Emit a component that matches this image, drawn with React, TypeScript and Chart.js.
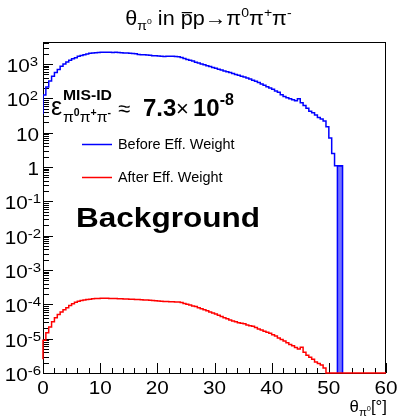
import React, { useEffect, useRef } from 'react';
import { Chart, registerables } from 'chart.js';

Chart.register(...registerables);

// ---------------- data ----------------
const X_MIN = 0;
const X_MAX = 60;
const Y_MIN = 1e-6;
const Y_MAX = 4400;
const BIN_WIDTH = 0.5;

// "Before Eff. Weight" — bin contents, bins of 0.5 starting at 0
const blueCounts = [
  35, 125, 215, 320, 440, 570, 700, 860, 1010, 1150,
  1290, 1420, 1530, 1680, 1780, 1880, 1960, 2060, 2100, 2150,
  2180, 2200, 2230, 2210, 2200, 2190, 2200, 2160, 2150, 2120,
  2110, 2080, 2050, 1990, 1900, 1870, 1860, 1830, 1800, 1760,
  1740, 1720, 1700, 1660, 1700, 1690, 1680, 1660, 1640, 1560,
  1450, 1370, 1290, 1220, 1140, 1070, 1000, 950, 900, 850,
  800, 760, 710, 670, 630, 600, 570, 535, 500, 475,
  440, 420, 390, 365, 340, 315, 290, 265, 240, 218,
  200, 185, 165, 150, 128, 113, 105, 98, 92, 85,
  97, 75, 62, 52, 42, 38, 33, 28, 25, 22,
  15, 7, 2.5,
];
// the filled last bin of the blue histogram
const blueLastBinEdges = [51.5, 52.4];
const blueLastBinValue = 1.1;

// "After Eff. Weight" — bin contents, bins of 0.5 starting at 0
const redCounts = [
  2.5e-6, 9e-6, 15e-6, 22e-6, 31e-6, 41e-6, 51e-6, 60e-6, 70e-6, 80e-6,
  92e-6, 105e-6, 115e-6, 124e-6, 130e-6, 135e-6, 139e-6, 142e-6, 145e-6, 148e-6,
  149e-6, 151e-6, 150e-6, 150e-6, 148e-6, 149e-6, 147e-6, 146e-6, 146e-6, 144e-6,
  143e-6, 142e-6, 141e-6, 139e-6, 138e-6, 136e-6, 134e-6, 133e-6, 131e-6, 129e-6,
  127e-6, 125e-6, 124e-6, 122e-6, 121e-6, 120e-6, 119e-6, 118e-6, 117e-6, 113e-6,
  106e-6, 100e-6, 95e-6, 90e-6, 86e-6, 80e-6, 75e-6, 70e-6, 65e-6, 60e-6,
  56e-6, 52e-6, 48e-6, 44e-6, 41e-6, 38e-6, 35e-6, 33e-6, 31e-6, 29e-6,
  28e-6, 27e-6, 25e-6, 24e-6, 23e-6, 21e-6, 19e-6, 18e-6, 16.5e-6, 15.5e-6,
  14.5e-6, 13e-6, 12e-6, 10.5e-6, 9.5e-6, 8.5e-6, 7.6e-6, 6.8e-6, 6.2e-6, 5.5e-6,
  5.0e-6, 5.6e-6, 4.0e-6, 3.3e-6, 2.9e-6, 2.5e-6, 2.1e-6, 1.9e-6, 1.7e-6, 1.4e-6,
  0, 0, 0, 0, 0, 0, 0, 0, 0, 0,
  0, 0, 0, 0, 0, 0, 0, 0, 0, 0,
];

const xMajorTicks = [0, 10, 20, 30, 40, 50, 60];
const xMinorTicks = [2, 4, 6, 8, 12, 14, 16, 18, 22, 24, 26, 28, 32, 34, 36, 38, 42, 44, 46, 48, 52, 54, 56, 58];
const yDecadeExponents = [-6, -5, -4, -3, -2, -1, 0, 1, 2, 3];
const legendLabels = ['Before Eff. Weight', 'After Eff. Weight'];
const effMantissa = '7.3';
const effExponent = '-8';
const bannerText = 'Background';

const BLUE = '#0000ff';
const RED = '#ff0000';
const FONT = '"Liberation Sans", Arial, Helvetica, sans-serif';

function fnt(size: number, bold = false) {
  return `${bold ? 'bold ' : ''}${size}px ${FONT}`;
}

type Seg = { t: string; size: number; bold?: boolean; dy?: number; over?: boolean };

function richWidth(ctx: CanvasRenderingContext2D, segs: Seg[]) {
  let w = 0;
  for (const s of segs) {
    ctx.font = fnt(s.size, s.bold);
    w += ctx.measureText(s.t).width;
  }
  return w;
}

function drawRich(
  ctx: CanvasRenderingContext2D,
  segs: Seg[],
  x: number,
  y: number,
  align: 'left' | 'center' | 'right',
  sx = 1,
) {
  const w = richWidth(ctx, segs) * sx;
  let x0 = x;
  if (align === 'center') x0 = x - w / 2;
  if (align === 'right') x0 = x - w;
  ctx.save();
  ctx.translate(x0, y);
  ctx.scale(sx, 1);
  ctx.textAlign = 'left';
  ctx.textBaseline = 'alphabetic';
  let cx = 0;
  for (const s of segs) {
    ctx.font = fnt(s.size, s.bold);
    const sw = ctx.measureText(s.t).width;
    ctx.fillText(s.t, cx, s.dy || 0);
    if (s.over) {
      ctx.beginPath();
      ctx.lineWidth = 1.2;
      const oy = (s.dy || 0) - s.size * 0.62;
      ctx.moveTo(cx + 1, oy);
      ctx.lineTo(cx + sw - 0.5, oy);
      ctx.stroke();
    }
    cx += sw;
  }
  ctx.restore();
}

function histPoints(counts: number[], start: number, width: number) {
  const pts: { x: number; y: number }[] = [];
  counts.forEach((c, i) => pts.push({ x: start + i * width, y: c > 0 ? c : Y_MIN }));
  const last = counts[counts.length - 1];
  pts.push({ x: start + counts.length * width, y: last > 0 ? last : Y_MIN });
  return pts;
}

const axesPlugin = {
  id: 'rootAxes',
  beforeDatasetsDraw(chart: any) {
    const { ctx, chartArea: a, scales } = chart;
    const xs = scales.x;
    const ys = scales.y;
    ctx.save();
    ctx.strokeStyle = '#000';
    ctx.lineWidth = 1;
    ctx.strokeRect(a.left + 0.5, a.top + 0.5, a.right - a.left - 1, a.bottom - a.top);
    ctx.beginPath();
    for (const v of xMajorTicks) {
      const px = Math.round(xs.getPixelForValue(v)) + 0.5;
      ctx.moveTo(px, a.bottom);
      ctx.lineTo(px, a.bottom - 10);
    }
    for (const v of xMinorTicks) {
      const px = Math.round(xs.getPixelForValue(v)) + 0.5;
      ctx.moveTo(px, a.bottom);
      ctx.lineTo(px, a.bottom - 5);
    }
    for (const e of yDecadeExponents) {
      for (let m = 1; m <= 9; m++) {
        const v = m * Math.pow(10, e);
        if (v < Y_MIN || v > Y_MAX) continue;
        const py = Math.round(ys.getPixelForValue(v)) + 0.5;
        ctx.moveTo(a.left, py);
        ctx.lineTo(a.left + (m === 1 ? 10 : 6), py);
      }
    }
    ctx.stroke();
    ctx.restore();
  },
  afterDraw(chart: any) {
    const { ctx, chartArea: a, scales } = chart;
    const xs = scales.x;
    const ys = scales.y;
    ctx.save();
    ctx.fillStyle = '#000';
    ctx.strokeStyle = '#000';
    const SX = 1.15;

    for (const v of xMajorTicks) {
      drawRich(ctx, [{ t: String(v), size: 18 }], xs.getPixelForValue(v), a.bottom + 21, 'center', SX);
    }
    for (const e of yDecadeExponents) {
      const py = ys.getPixelForValue(Math.pow(10, e));
      let segs: Seg[];
      if (e === 0) segs = [{ t: '1', size: 18 }];
      else if (e === 1) segs = [{ t: '10', size: 18 }];
      else segs = [{ t: '10', size: 18 }, { t: String(e), size: 13, dy: -6 }];
      drawRich(ctx, segs, e >= 2 ? 38 : e >= 0 ? 39 : 41, py + 8, 'right', SX);
    }

    drawRich(
      ctx,
      [
        { t: 'θ', size: 20 },
        { t: 'π', size: 13, dy: 5 },
        { t: '0', size: 8, dy: -1 },
        { t: ' in ', size: 20 },
        { t: 'p', size: 20, over: true },
        { t: 'p→π', size: 20 },
        { t: '0', size: 13, dy: -8 },
        { t: 'π', size: 20 },
        { t: '+', size: 13, dy: -8 },
        { t: 'π', size: 20 },
        { t: '-', size: 13, dy: -8 },
      ],
      208.5,
      25,
      'center',
      1.08,
    );

    drawRich(
      ctx,
      [
        { t: 'θ', size: 16 },
        { t: 'π', size: 11, dy: 4 },
        { t: '0', size: 7, dy: -1 },
        { t: '[°]', size: 16 },
      ],
      387,
      412,
      'right',
      1.05,
    );

    drawRich(ctx, [{ t: 'ε', size: 25 }], 51, 115, 'left', 1.0);
    drawRich(ctx, [{ t: 'MIS-ID', size: 15, bold: true }], 63, 100, 'left', 1.05);
    drawRich(
      ctx,
      [
        { t: 'π', size: 15 },
        { t: '0', size: 10, bold: true, dy: -6 },
        { t: 'π', size: 15 },
        { t: '+', size: 10, bold: true, dy: -6 },
        { t: 'π', size: 15 },
        { t: '-', size: 10, bold: true, dy: -6 },
      ],
      63,
      122,
      'left',
      1.05,
    );
    drawRich(ctx, [{ t: '≈', size: 22 }], 118, 116, 'left', 1.0);
    drawRich(ctx, [{ t: effMantissa, size: 24, bold: true }], 143, 116, 'left', 1.0);
    drawRich(ctx, [{ t: '×', size: 22 }], 176, 116, 'left', 1.0);
    drawRich(
      ctx,
      [
        { t: '10', size: 24, bold: true },
        { t: effExponent, size: 16, bold: true, dy: -11 },
      ],
      193,
      116,
      'left',
      1.0,
    );

    const legendY = [144.5, 177.5];
    const legendColors = [BLUE, RED];
    legendLabels.forEach((lab, i) => {
      ctx.beginPath();
      ctx.strokeStyle = legendColors[i];
      ctx.lineWidth = 1.5;
      ctx.moveTo(82, legendY[i]);
      ctx.lineTo(112, legendY[i]);
      ctx.stroke();
      ctx.fillStyle = '#000';
      drawRich(ctx, [{ t: lab, size: 14 }], 118, legendY[i] + 4.5, 'left', 1.03);
    });

    ctx.font = fnt(28, true);
    const bw = ctx.measureText(bannerText).width;
    drawRich(ctx, [{ t: bannerText, size: 28, bold: true }], 76, 227, 'left', 184 / bw);

    ctx.restore();
  },
};

export default function App() {
  const ref = useRef<HTMLCanvasElement | null>(null);

  useEffect(() => {
    if (!ref.current) return;
    const bluePts = histPoints(blueCounts, X_MIN, BIN_WIDTH);
    bluePts.pop();
    bluePts.push({ x: blueLastBinEdges[0], y: blueLastBinValue });
    bluePts.push({ x: blueLastBinEdges[1], y: blueLastBinValue });
    const redPts = histPoints(redCounts, X_MIN, BIN_WIDTH);
    const barPts = [
      { x: blueLastBinEdges[0], y: Y_MIN },
      { x: blueLastBinEdges[0], y: blueLastBinValue },
      { x: blueLastBinEdges[1], y: blueLastBinValue },
      { x: blueLastBinEdges[1], y: Y_MIN },
    ];

    const chart = new Chart(ref.current, {
      type: 'line',
      data: {
        datasets: [
          {
            data: redPts,
            borderColor: RED,
            borderWidth: 1.5,
            stepped: 'after',
            pointRadius: 0,
            fill: false,
            order: 1,
            clip: 3,
          } as any,
          {
            data: bluePts,
            borderColor: BLUE,
            borderWidth: 1.5,
            stepped: 'after',
            pointRadius: 0,
            fill: false,
            order: 2,
          } as any,
          {
            data: barPts,
            borderColor: BLUE,
            backgroundColor: '#7272ff',
            borderWidth: 1.5,
            pointRadius: 0,
            fill: 'start',
            tension: 0,
            order: 3,
          } as any,
        ],
      },
      options: {
        animation: false,
        responsive: false,
        maintainAspectRatio: false,
        parsing: false as any,
        normalized: true,
        layout: { padding: { left: 43, right: 13, top: 42, bottom: 44 } },
        scales: {
          x: { type: 'linear', min: X_MIN, max: X_MAX, display: false },
          y: { type: 'logarithmic', min: Y_MIN, max: Y_MAX, display: false },
        },
        plugins: {
          legend: { display: false },
          tooltip: { enabled: false },
          title: { display: false },
        },
        elements: { point: { radius: 0 } },
      },
      plugins: [axesPlugin],
    });
    return () => chart.destroy();
  }, []);

  return (
    <div style={{ position: 'absolute', left: 0, top: 0, width: 399, height: 417, background: '#fff' }}>
      <canvas ref={ref} width={399} height={417} style={{ display: 'block' }} />
    </div>
  );
}
